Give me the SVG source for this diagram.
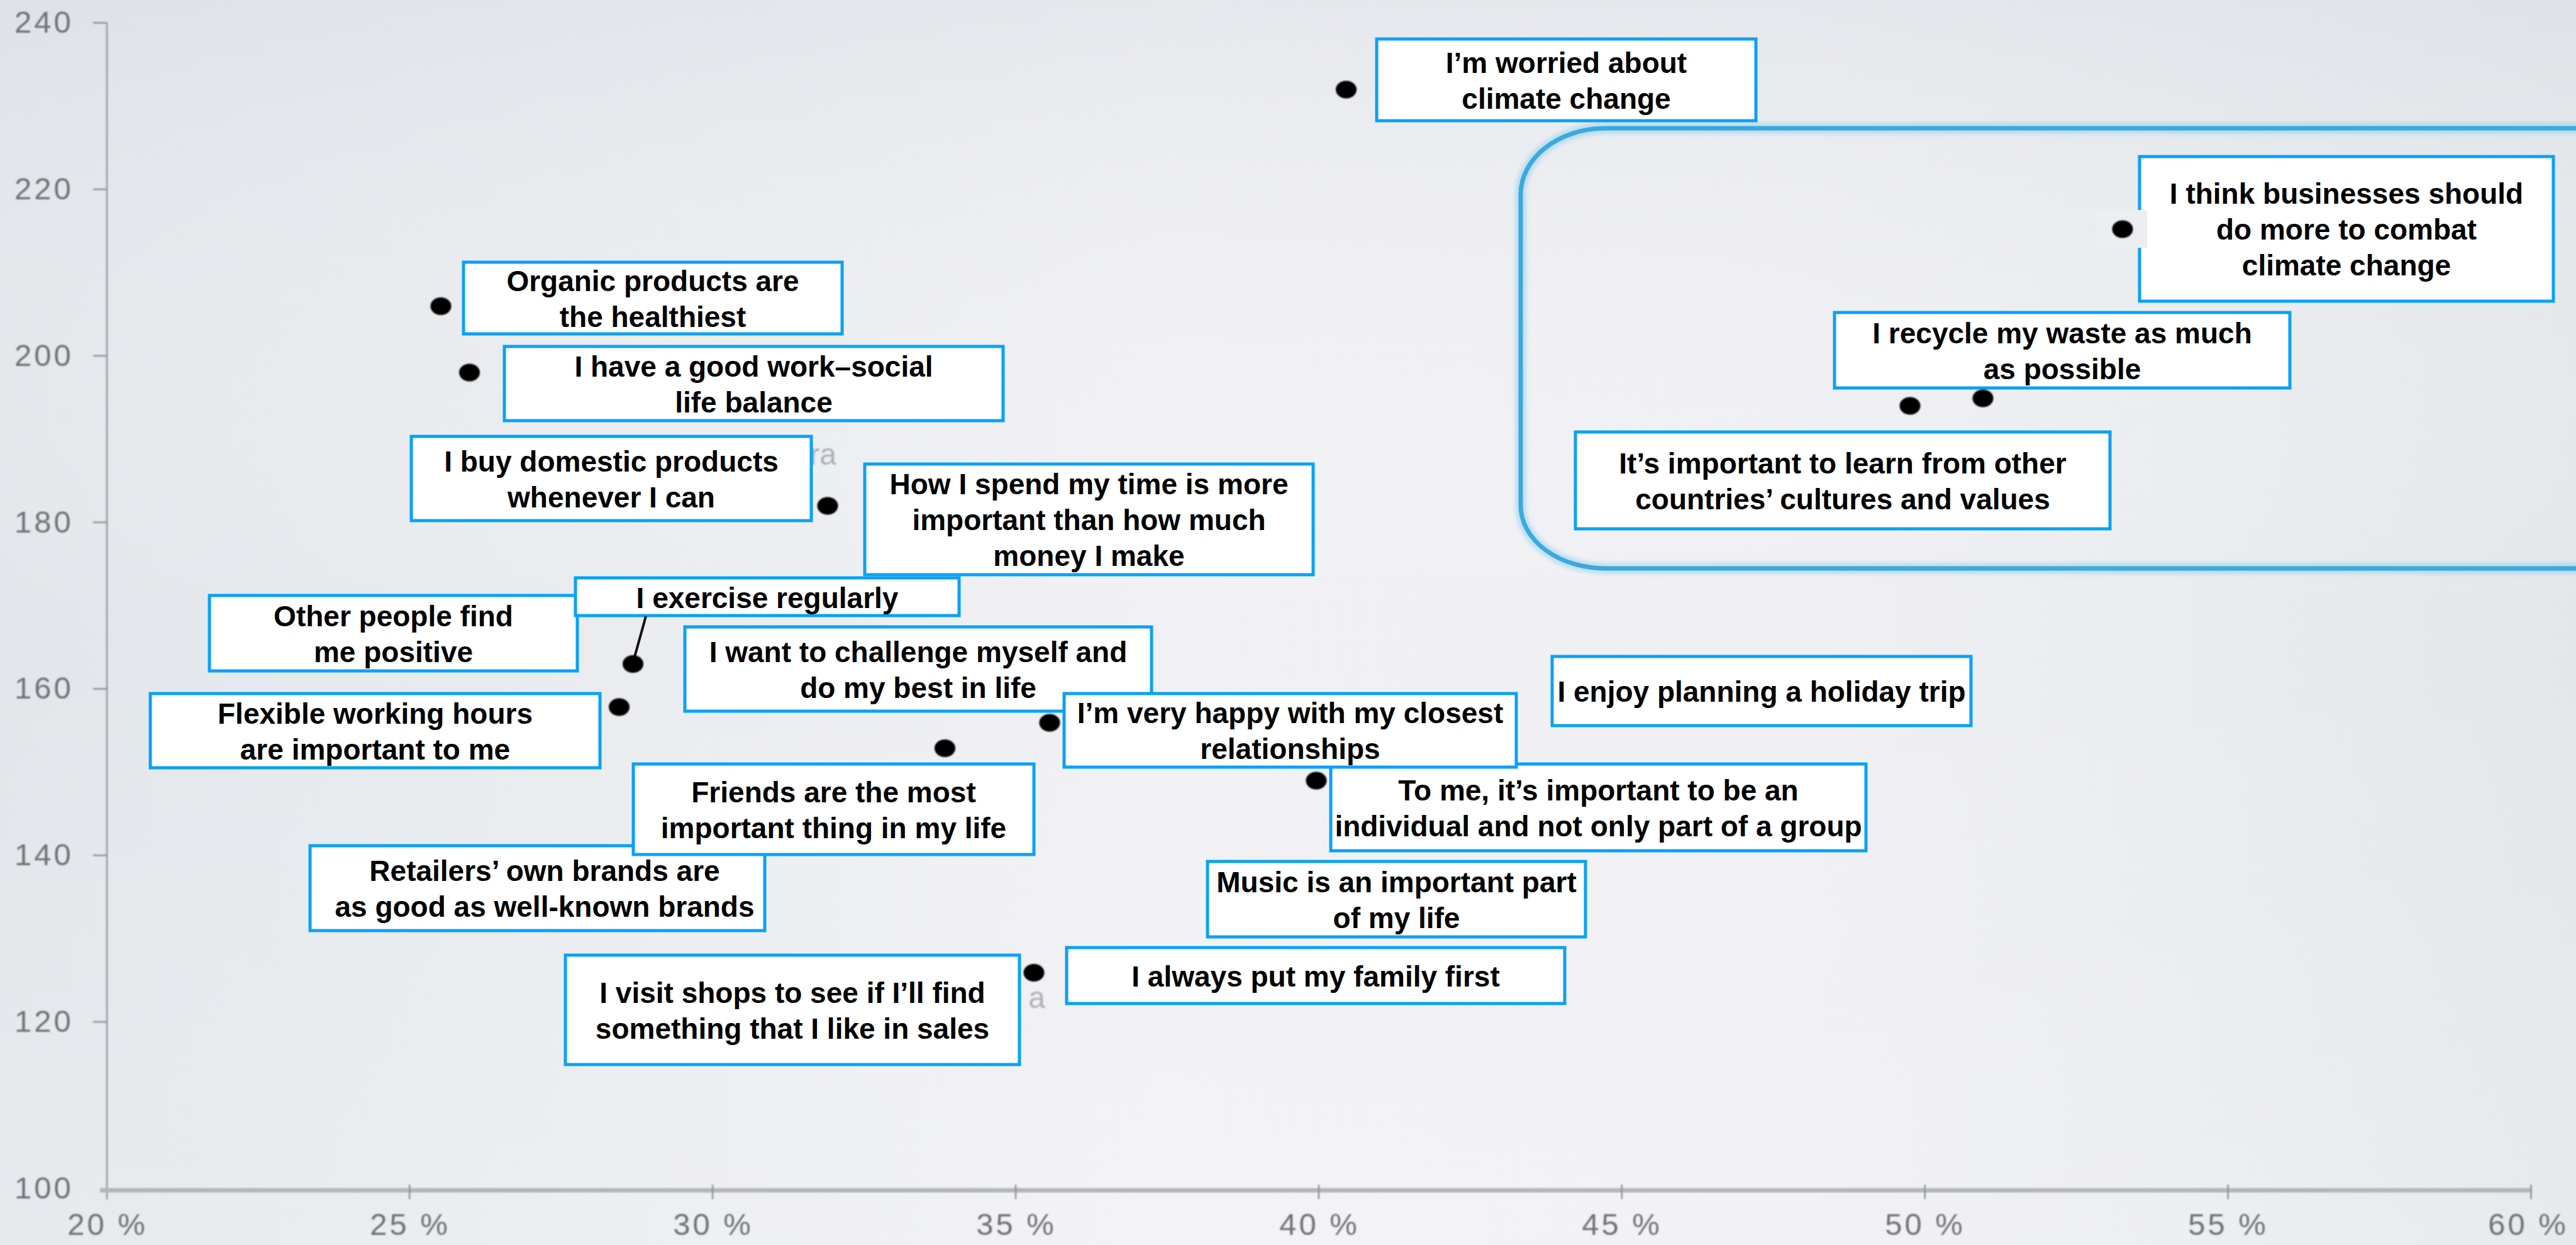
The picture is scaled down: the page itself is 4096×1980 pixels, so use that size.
<svg xmlns="http://www.w3.org/2000/svg" width="4096" height="1980" viewBox="0 0 4096 1980">
<defs>
<linearGradient id="bg" x1="0" y1="0" x2="1" y2="0">
<stop offset="0" stop-color="#e2e6ea"/>
<stop offset="0.45" stop-color="#f1f1f5"/>
<stop offset="0.7" stop-color="#f0f0f4"/>
<stop offset="1" stop-color="#e3e7ea"/>
</linearGradient>
<linearGradient id="bgv" x1="0" y1="0" x2="0" y2="1">
<stop offset="0" stop-color="#d9dde3" stop-opacity="0.45"/>
<stop offset="0.5" stop-color="#ffffff" stop-opacity="0"/>
<stop offset="1" stop-color="#ffffff" stop-opacity="0.15"/>
</linearGradient>
<filter id="soft" x="-5%" y="-5%" width="110%" height="110%"><feGaussianBlur stdDeviation="1.3"/></filter>
<filter id="glow" x="-5%" y="-10%" width="110%" height="120%"><feGaussianBlur stdDeviation="3"/></filter>
<filter id="dotblur" x="-30%" y="-30%" width="160%" height="160%"><feGaussianBlur stdDeviation="0.9"/></filter>
<style>
.box{fill:#ffffff;stroke:#0aa1f7;stroke-width:5}
.lbl{font-family:"Liberation Sans",Arial,Helvetica,sans-serif;font-weight:bold;font-size:46px;fill:#000000;text-anchor:middle}
.ax{font-family:"Liberation Sans",Arial,sans-serif;font-size:49px;fill:#6f7276;text-anchor:middle;letter-spacing:4px}
.frag{font-family:"Liberation Sans",Arial,sans-serif;font-size:48px;fill:#adb1b7;text-anchor:end}
.pt{fill:#060606}
.tick{stroke:#8d9195;stroke-width:2.5}
</style>
</defs>
<rect x="0" y="0" width="4096" height="1980" fill="url(#bg)"/>
<rect x="0" y="0" width="4096" height="1980" fill="url(#bgv)"/>

<g id="axes" filter="url(#soft)">
<line x1="170" y1="36" x2="170" y2="1908" stroke="#a0a4a8" stroke-width="3"/>
<line x1="159" y1="1893" x2="4026" y2="1893" stroke="#b2b5b9" stroke-width="7"/>
<g class="tick">
<line x1="148" y1="36.3" x2="170" y2="36.3"/>
<line x1="148" y1="301.1" x2="170" y2="301.1"/>
<line x1="148" y1="565.9" x2="170" y2="565.9"/>
<line x1="148" y1="830.7" x2="170" y2="830.7"/>
<line x1="148" y1="1095.5" x2="170" y2="1095.5"/>
<line x1="148" y1="1360.3" x2="170" y2="1360.3"/>
<line x1="148" y1="1625.1" x2="170" y2="1625.1"/>
<line x1="651.2" y1="1884" x2="651.2" y2="1907"/>
<line x1="1133.1" y1="1884" x2="1133.1" y2="1907"/>
<line x1="1615" y1="1884" x2="1615" y2="1907"/>
<line x1="2096.9" y1="1884" x2="2096.9" y2="1907"/>
<line x1="2578.8" y1="1884" x2="2578.8" y2="1907"/>
<line x1="3060.7" y1="1884" x2="3060.7" y2="1907"/>
<line x1="3542.6" y1="1884" x2="3542.6" y2="1907"/>
<line x1="4024.5" y1="1884" x2="4024.5" y2="1907"/>
</g>
<g class="ax">
<text x="70" y="52">240</text>
<text x="70" y="317">220</text>
<text x="70" y="582">200</text>
<text x="70" y="847">180</text>
<text x="70" y="1111">160</text>
<text x="70" y="1376">140</text>
<text x="70" y="1641">120</text>
<text x="70" y="1906">100</text>
<text x="171" y="1964">20 %</text>
<text x="652" y="1964">25 %</text>
<text x="1134" y="1964">30 %</text>
<text x="1616" y="1964">35 %</text>
<text x="2098" y="1964">40 %</text>
<text x="2579" y="1964">45 %</text>
<text x="3061" y="1964">50 %</text>
<text x="3543" y="1964">55 %</text>
<text x="4020" y="1964">60 %</text>
</g>
</g>

<g id="fragments" filter="url(#soft)">
<text class="frag" x="1330" y="739">ra</text>
<text class="frag" x="1662" y="1603">a</text>
</g>

<g id="highlight">
<path d="M4110 204 H2553 A135 105 0 0 0 2418 309 V804 A135 100 0 0 0 2553 904 H4110" fill="none" stroke="#8fd0ee" stroke-width="18" stroke-opacity="0.55" filter="url(#glow)"/>
<path d="M4110 204 H2553 A135 105 0 0 0 2418 309 V804 A135 100 0 0 0 2553 904 H4110" fill="none" stroke="#3aa9de" stroke-width="7"/>
</g>

<g id="nodes">
<g id="n-worried"><rect class="box" x="2189" y="62" width="603" height="130"/><text class="lbl" x="2490.5" y="115.5">I’m worried about</text><text class="lbl" x="2490.5" y="172.5">climate change</text></g>
<g id="n-business"><rect class="box" x="3402" y="249" width="658" height="230"/><text class="lbl" x="3731" y="324">I think businesses should</text><text class="lbl" x="3731" y="381">do more to combat</text><text class="lbl" x="3731" y="438">climate change</text><rect x="3334" y="334" width="80" height="60" fill="#eceef1"/></g>
<g id="n-recycle"><rect class="box" x="2917" y="497" width="724" height="120"/><text class="lbl" x="3279" y="545.5">I recycle my waste as much</text><text class="lbl" x="3279" y="602.5">as possible</text></g>
<g id="n-cultures"><rect class="box" x="2505" y="687" width="850" height="154"/><text class="lbl" x="2930" y="752.5">It’s important to learn from other</text><text class="lbl" x="2930" y="809.5">countries’ cultures and values</text></g>
<g id="n-holiday"><rect class="box" x="2468" y="1044" width="666" height="110"/><text class="lbl" x="2801" y="1116">I enjoy planning a holiday trip</text></g>
<g id="n-individual"><rect class="box" x="2116" y="1215" width="851" height="138"/><text class="lbl" x="2541.5" y="1272.5">To me, it’s important to be an</text><text class="lbl" x="2541.5" y="1329.5">individual and not only part of a group</text></g>
<g id="n-music"><rect class="box" x="1920" y="1370" width="601" height="120"/><text class="lbl" x="2220.5" y="1418.5">Music is an important part</text><text class="lbl" x="2220.5" y="1475.5">of my life</text></g>
<g id="n-family"><rect class="box" x="1696" y="1507" width="792" height="89"/><text class="lbl" x="2092" y="1568.5">I always put my family first</text></g>
<g id="n-challenge"><rect class="box" x="1089" y="997" width="742" height="134"/><text class="lbl" x="1460" y="1052.5">I want to challenge myself and</text><text class="lbl" x="1460" y="1109.5">do my best in life</text></g>
<g id="n-happy"><rect class="box" x="1692" y="1103" width="719" height="117"/><text class="lbl" x="2051.5" y="1150">I’m very happy with my closest</text><text class="lbl" x="2051.5" y="1207">relationships</text></g>
<g id="n-retailers"><rect class="box" x="493" y="1345" width="723" height="135"/><text class="lbl" x="866" y="1401">Retailers’ own brands are</text><text class="lbl" x="866" y="1458">as good as well-known brands</text></g>
<g id="n-friends"><rect class="box" x="1007" y="1215" width="637" height="144"/><text class="lbl" x="1325.5" y="1275.5">Friends are the most</text><text class="lbl" x="1325.5" y="1332.5">important thing in my life</text></g>
<g id="n-other"><rect class="box" x="333" y="947" width="585" height="120"/><text class="lbl" x="625.5" y="995.5">Other people find</text><text class="lbl" x="625.5" y="1052.5">me positive</text></g>
<g id="n-exercise"><rect class="box" x="915" y="919" width="610" height="60"/><text class="lbl" x="1220" y="967">I exercise regularly</text></g>
<g id="n-flexible"><rect class="box" x="239" y="1103" width="715" height="118"/><text class="lbl" x="596.5" y="1150.5">Flexible working hours</text><text class="lbl" x="596.5" y="1207.5">are important to me</text></g>
<g id="n-sales"><rect class="box" x="899" y="1519" width="722" height="174"/><text class="lbl" x="1260" y="1594.5">I visit shops to see if I’ll find</text><text class="lbl" x="1260" y="1651.5">something that I like in sales</text></g>
<g id="n-organic"><rect class="box" x="737" y="417" width="602" height="114"/><text class="lbl" x="1038" y="462.5">Organic products are</text><text class="lbl" x="1038" y="519.5">the healthiest</text></g>
<g id="n-worklife"><rect class="box" x="802" y="551" width="793" height="118"/><text class="lbl" x="1198.5" y="598.5">I have a good work–social</text><text class="lbl" x="1198.5" y="655.5">life balance</text></g>
<g id="n-domestic"><rect class="box" x="654" y="694" width="636" height="134"/><text class="lbl" x="972" y="749.5">I buy domestic products</text><text class="lbl" x="972" y="806.5">whenever I can</text></g>
<g id="n-time"><rect class="box" x="1375" y="738" width="713" height="176"/><text class="lbl" x="1731.5" y="786">How I spend my time is more</text><text class="lbl" x="1731.5" y="843">important than how much</text><text class="lbl" x="1731.5" y="900">money I make</text></g>
</g>

<g id="connectors">
<line x1="1027" y1="980" x2="1007" y2="1052" stroke="#111111" stroke-width="4"/>
</g>

<g id="points" filter="url(#dotblur)">
<ellipse class="pt" cx="2140.5" cy="142.5" rx="16.5" ry="14"/>
<ellipse class="pt" cx="3375" cy="364.5" rx="16.5" ry="14"/>
<ellipse class="pt" cx="3037" cy="645.5" rx="16.5" ry="14"/>
<ellipse class="pt" cx="3153" cy="633.5" rx="16.5" ry="14"/>
<ellipse class="pt" cx="701" cy="487" rx="16.5" ry="14"/>
<ellipse class="pt" cx="746.5" cy="592.5" rx="16.5" ry="14"/>
<ellipse class="pt" cx="1316" cy="804.5" rx="16.5" ry="14"/>
<ellipse class="pt" cx="1006.5" cy="1056" rx="16.5" ry="14"/>
<ellipse class="pt" cx="984.5" cy="1124.5" rx="16.5" ry="14"/>
<ellipse class="pt" cx="1669" cy="1149.5" rx="16.5" ry="14"/>
<ellipse class="pt" cx="1502.5" cy="1190" rx="16.5" ry="14"/>
<ellipse class="pt" cx="1644" cy="1547" rx="16.5" ry="14"/>
<ellipse class="pt" cx="2093" cy="1241.5" rx="16.5" ry="14"/>
</g>
</svg>
